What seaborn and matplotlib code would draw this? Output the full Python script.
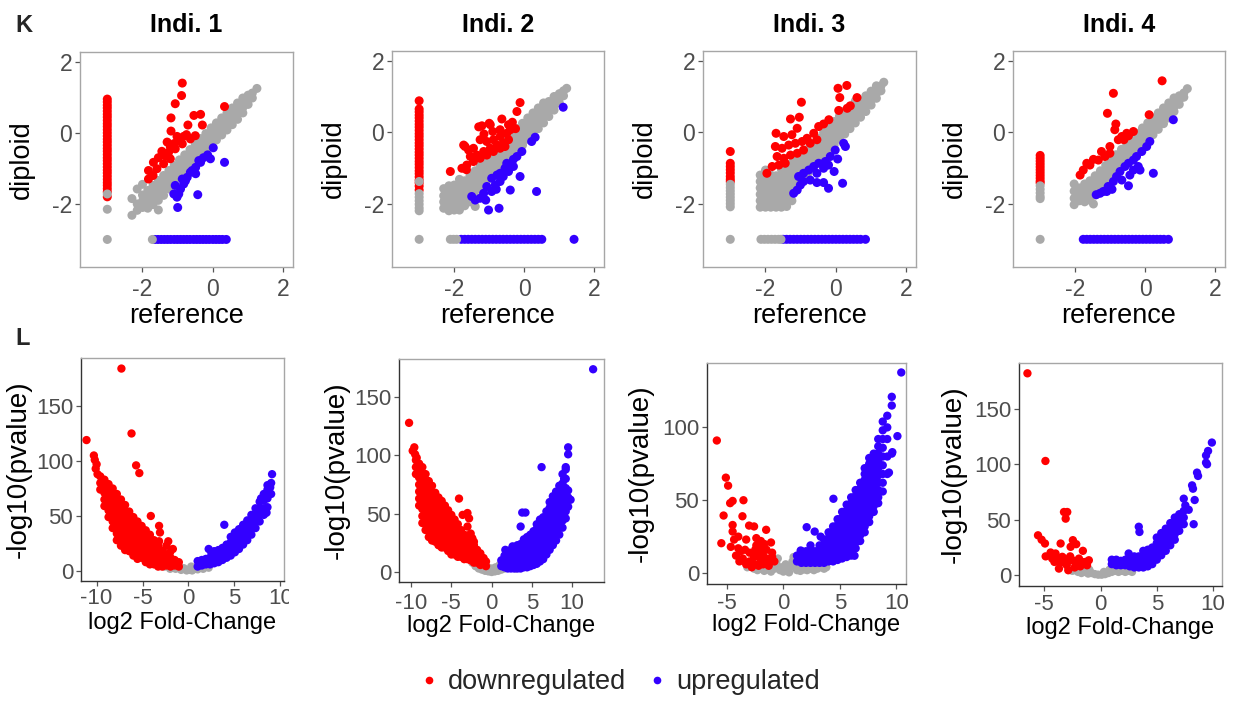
import matplotlib
matplotlib.use("Agg")
import matplotlib.pyplot as plt
import seaborn as sns
import pandas as pd
from matplotlib.lines import Line2D
from matplotlib.patches import Rectangle

# ============================ DATA ============================
FLOOR = -3.0   # value used for genes not detected in one sample
titles = ["Indi. 1", "Indi. 2", "Indi. 3", "Indi. 4"]
legend_labels = ["downregulated", "upregulated"]

# ---- K panels (reference vs diploid); gray columns: (reference, [diploid ...]) ----
K1_gray_cols = [
    (-2.30, [-2.32, -1.85]), (-2.15, [-2.18, -2.00, -1.58]), (-2.00, [-2.10, -1.92, -1.75, -1.45]),
    (-1.85, [-2.12, -1.98, -1.80, -1.62]), (-1.70, [-2.02, -1.86, -1.68, -1.48]),
    (-1.55, [-2.17, -1.90, -1.72, -1.55, -1.34]), (-1.40, [-1.76, -1.58, -1.40, -1.20]),
    (-1.25, [-1.58, -1.42, -1.25, -1.06]), (-1.10, [-1.40, -1.27, -1.10, -0.92]),
    (-0.95, [-1.24, -1.12, -0.95, -0.76]), (-0.80, [-1.10, -0.97, -0.80, -0.62]),
    (-0.65, [-0.96, -0.82, -0.65, -0.47]), (-0.50, [-0.80, -0.67, -0.50, -0.32]),
    (-0.35, [-0.66, -0.51, -0.34, -0.16]), (-0.20, [-0.50, -0.36, -0.19, -0.02]),
    (-0.05, [-0.35, -0.21, -0.04, 0.14]), (0.10, [-0.20, -0.06, 0.11, 0.28]),
    (0.25, [-0.06, 0.09, 0.26, 0.42]), (0.40, [0.08, 0.24, 0.41, 0.56]),
    (0.55, [0.23, 0.39, 0.56, 0.70]), (0.70, [0.38, 0.55, 0.71, 0.84]),
    (0.85, [0.56, 0.71, 0.86, 0.98]), (1.00, [0.80, 0.94, 1.06]), (1.12, [0.98, 1.12]), (1.25, [1.25]),
]
K1_red_pts = [(-0.87, 1.40), (-0.89, 1.05), (-1.07, 0.82), (-1.19, 0.42), (-0.54, 0.49), (-0.35, 0.52),
              (-0.71, 0.22), (-0.30, 0.22), (-1.19, 0.05), (-1.02, -0.10), (-0.83, -0.10), (-0.64, -0.17),
              (0.33, 0.74), (-1.30, -0.26), (-1.21, -0.39), (-1.45, -0.52), (-1.26, -0.55), (-1.07, -0.45),
              (-0.87, -0.31), (-1.69, -0.83), (-1.83, -1.06), (-1.83, -1.30), (-1.59, -1.01), (-1.40, -0.87),
              (-1.21, -0.73), (-1.55, -0.70), (-1.10, -0.30), (-0.95, -0.20), (-0.75, -0.05), (-0.50, -0.08),
              (-1.70, -1.20), (-1.35, -0.65)]
K1_blue_pts = [(0.01, -0.42), (-0.27, -0.70), (-0.07, -0.73), (0.33, -0.83), (-0.40, -0.78), (-0.59, -1.06),
               (-0.49, -1.15), (-0.87, -1.30), (-0.83, -1.44), (-0.92, -1.58), (-0.97, -1.72), (-1.02, -1.81),
               (-0.43, -1.74), (-1.00, -2.10), (-1.07, -1.48), (-0.73, -1.25), (-0.64, -1.11), (-0.49, -0.97),
               (-0.35, -0.83), (-1.11, -1.72), (-0.15, -0.62), (-0.78, -1.35)]
K1_red_col = [0.95, 0.87, 0.78, 0.70, 0.61, 0.52, 0.44, 0.35, 0.26, 0.18, 0.09, 0.00, -0.09, -0.18, -0.26,
              -0.35, -0.44, -0.52, -0.61, -0.70, -0.78, -0.87, -0.96, -1.05, -1.13, -1.22, -1.31, -1.40,
              -1.48, -1.57, -1.66, -1.80]
K1_gray_col = [-1.72, -2.15, -3.0]
K1_blue_row = [-1.65, -1.56, -1.47, -1.38, -1.29, -1.20, -1.10, -1.01, -0.92, -0.83, -0.74, -0.65, -0.55,
               -0.46, -0.37, -0.28, -0.19, -0.10, 0.00, 0.09, 0.18, 0.27, 0.38]
K1_gray_row = [-1.72]

K2_gray_cols = [
    (-2.30, [-2.13, -1.95, -1.78, -1.58]), (-2.15, [-2.20, -2.02, -1.85, -1.68, -1.50]),
    (-2.00, [-2.18, -2.00, -1.82, -1.64, -1.48]), (-1.85, [-2.18, -2.00, -1.84, -1.66, -1.48, -1.32]),
    (-1.70, [-2.06, -1.88, -1.70, -1.52, -1.36]), (-1.55, [-1.95, -1.76, -1.58, -1.40, -1.22]),
    (-1.40, [-2.08, -1.80, -1.62, -1.44, -1.26, -1.08]), (-1.25, [-1.60, -1.46, -1.28, -1.10, -0.94]),
    (-1.10, [-1.44, -1.30, -1.12, -0.95, -0.80]), (-0.95, [-1.28, -1.15, -0.97, -0.80, -0.65]),
    (-0.80, [-1.12, -0.99, -0.82, -0.65, -0.50]), (-0.65, [-0.98, -0.83, -0.66, -0.50, -0.36]),
    (-0.50, [-0.82, -0.68, -0.51, -0.35, -0.20]), (-0.35, [-0.68, -0.53, -0.36, -0.20, -0.05]),
    (-0.20, [-0.52, -0.37, -0.20, -0.04, 0.10]), (-0.05, [-0.36, -0.22, -0.05, 0.11, 0.25]),
    (0.10, [-0.20, -0.06, 0.10, 0.26, 0.40]), (0.25, [-0.06, 0.10, 0.26, 0.41, 0.54]),
    (0.40, [0.10, 0.26, 0.41, 0.56, 0.68]), (0.55, [0.26, 0.42, 0.57, 0.71, 0.82]),
    (0.70, [0.44, 0.59, 0.73, 0.86]), (0.85, [0.62, 0.76, 0.89, 1.00]),
    (1.00, [0.82, 0.95, 1.08]), (1.12, [1.02, 1.16]), (1.21, [1.23]),
]
K2_red_pts = [(-0.12, 0.83), (-0.21, 0.58), (-0.64, 0.37), (-1.21, 0.18), (-0.97, 0.21), (-0.90, 0.02),
              (-0.69, 0.07), (-0.45, 0.21), (-0.34, 0.28), (-1.69, -0.40), (-1.45, -0.45), (-1.26, -0.21),
              (-1.07, -0.26), (-0.88, -0.21), (-0.69, -0.12), (-0.50, -0.03), (-0.40, 0.07), (-1.54, -0.68),
              (-1.35, -0.64), (-1.16, -0.54), (-0.97, -0.45), (-0.78, -0.36), (-0.60, -0.31), (-0.45, -0.21),
              (-1.78, -1.01), (-1.64, -0.92), (-1.45, -0.82), (-1.26, -0.73), (-1.07, -0.64), (-0.88, -0.54),
              (-0.69, -0.45), (-0.55, -0.40), (-2.11, -1.10), (-1.30, 0.15), (-1.00, 0.25), (-1.73, -0.36),
              (-1.59, -0.50), (-0.25, 0.10), (-1.15, -0.05), (-1.65, -1.05)]
K2_blue_pts = [(1.11, 0.70), (0.31, -0.14), (0.21, -0.26), (-0.07, -0.54), (-0.21, -0.68), (-0.31, -0.76),
               (-0.50, -0.87), (-0.55, -1.01), (-0.69, -1.15), (-0.78, -1.20), (-0.12, -1.24), (-0.93, -1.29),
               (-0.83, -1.48), (-1.07, -1.52), (-0.93, -1.66), (-1.16, -1.71), (-1.26, -1.85), (-0.40, -1.62),
               (0.35, -1.66), (-1.02, -2.18), (-0.72, -2.13), (-0.69, -1.38), (-0.60, -1.24), (-0.45, -1.10),
               (-0.31, -0.96), (-1.40, -1.90), (-1.50, -1.80), (-0.80, -1.60), (-1.10, -1.90)]
K2_red_col = [0.88, 0.65, 0.57, 0.48, 0.40, 0.31, 0.22, 0.14, 0.05, -0.04, -0.12, -0.21, -0.30, -0.38, -0.47,
              -0.56, -0.64, -0.73, -0.82, -0.90, -0.99, -1.08, -1.16, -1.25, -1.34, -1.42, -1.51, -1.62]
K2_gray_col = [-1.38, -1.72, -1.82, -1.92, -2.02, -2.12, -2.20, -3.0]
K2_blue_row = [-1.80, -1.70, -1.60, -1.50, -1.40, -1.30, -1.20, -1.10, -1.00, -0.90, -0.80, -0.70, -0.60,
               -0.50, -0.40, -0.30, -0.20, -0.10, 0.00, 0.10, 0.20, 0.30, 0.40, 0.50, 1.42]
K2_gray_row = [-2.11, -2.02, -1.93]

K3_gray_cols = [
    (-2.15, [-2.10, -1.92, -1.74, -1.56, -1.38, -1.20]), (-2.00, [-2.10, -1.92, -1.74, -1.56, -1.38, -1.20, -1.06]),
    (-1.85, [-2.10, -1.92, -1.74, -1.56, -1.38, -1.20]), (-1.70, [-2.10, -1.92, -1.74, -1.56, -1.38, -1.22]),
    (-1.55, [-2.10, -1.92, -1.74, -1.56, -1.38, -1.20, -1.04]),
    (-1.40, [-2.08, -1.90, -1.72, -1.54, -1.36, -1.18, -1.02]),
    (-1.25, [-1.92, -1.74, -1.56, -1.38, -1.20, -1.02, -0.86]),
    (-1.10, [-1.48, -1.30, -1.12, -0.95, -0.78]), (-0.95, [-1.32, -1.15, -0.98, -0.81, -0.64]),
    (-0.80, [-1.16, -0.99, -0.82, -0.65, -0.48]), (-0.65, [-1.00, -0.83, -0.66, -0.49, -0.32]),
    (-0.50, [-0.84, -0.67, -0.50, -0.33, -0.17]), (-0.35, [-0.68, -0.51, -0.34, -0.17, -0.01]),
    (-0.20, [-0.52, -0.35, -0.18, -0.01, 0.15]), (-0.05, [-0.36, -0.19, -0.02, 0.15, 0.30]),
    (0.10, [-0.20, -0.03, 0.14, 0.30, 0.45]), (0.25, [-0.05, 0.12, 0.28, 0.44, 0.59]),
    (0.40, [0.10, 0.26, 0.42, 0.58, 0.72]), (0.55, [0.26, 0.42, 0.58, 0.73, 0.87]),
    (0.70, [0.42, 0.58, 0.73, 0.88]), (0.85, [0.58, 0.74, 0.89, 1.02]),
    (1.00, [0.76, 0.90, 1.04, 1.15]), (1.15, [0.95, 1.08, 1.21, 1.30]), (1.28, [1.16, 1.30]), (1.36, [1.40]),
]
K3_red_pts = [(0.06, 1.23), (0.31, 1.31), (0.11, 0.97), (0.60, 0.97), (0.08, 0.61), (0.32, 0.67), (0.41, 0.74),
              (-0.98, 0.84), (-1.29, 0.37), (-1.04, 0.42), (-1.10, 0.11), (-1.70, -0.03), (-1.48, -0.12),
              (-1.25, -0.07), (-1.72, -0.40), (-1.53, -0.45), (-1.34, -0.36), (-1.15, -0.31), (-0.96, -0.26),
              (-0.82, -0.17), (-0.63, -0.03), (-0.49, 0.16), (-0.35, 0.23), (-0.20, 0.35), (-1.67, -0.68),
              (-1.48, -0.73), (-1.29, -0.64), (-1.10, -0.59), (-0.92, -0.50), (-1.81, -0.96), (-1.62, -0.92),
              (-1.44, -0.87), (-1.96, -1.15), (-0.73, -0.31), (-0.54, -0.21)]
K3_blue_pts = [(0.22, -0.31), (0.27, -0.40), (-0.02, -0.50), (-0.16, -0.68), (-0.30, -0.82), (-0.49, -0.87),
               (-0.63, -0.96), (-0.77, -1.06), (-0.92, -1.15), (-1.06, -1.24), (-0.92, -1.38), (-1.01, -1.48),
               (-1.10, -1.62), (-1.20, -1.71), (-0.54, -1.41), (-0.35, -1.41), (-0.21, -1.57), (0.19, -1.43),
               (-0.73, -1.34), (-0.54, -1.15), (-0.35, -1.01), (-0.21, -0.92), (0.05, -0.75), (-0.05, -1.10)]
K3_red_col = [-0.54, -0.87, -0.96, -1.05, -1.14, -1.24, -1.32, -1.38]
K3_gray_col = [-1.46, -1.55, -1.64, -1.73, -1.82, -1.91, -2.00, -2.09, -3.0]
K3_blue_row = [-1.50, -1.40, -1.30, -1.20, -1.10, -1.00, -0.90, -0.80, -0.70, -0.60, -0.50, -0.40, -0.30,
               -0.20, -0.10, 0.00, 0.10, 0.20, 0.30, 0.40, 0.50, 0.60, 0.70, 0.84]
K3_gray_row = [-2.13, -2.03, -1.93, -1.83, -1.73, -1.63, -1.56]

K4_gray_cols = [
    (-2.03, [-2.03, -1.85, -1.65, -1.45]), (-1.88, [-1.92, -1.74, -1.56]), (-1.73, [-1.95, -1.80, -1.62, -1.45]),
    (-1.58, [-1.90, -1.72, -1.55, -1.36]), (-1.48, [-2.01]), (-1.43, [-1.76, -1.58, -1.40, -1.22]),
    (-1.28, [-1.60, -1.43, -1.26, -1.08]), (-1.13, [-1.45, -1.28, -1.11, -0.93]),
    (-0.98, [-1.28, -1.13, -0.96, -0.78]), (-0.83, [-1.12, -0.97, -0.80, -0.63]),
    (-0.68, [-0.96, -0.82, -0.65, -0.48]), (-0.53, [-0.80, -0.67, -0.50, -0.33]),
    (-0.38, [-0.66, -0.51, -0.35, -0.18]), (-0.23, [-0.50, -0.36, -0.20, -0.03]),
    (-0.08, [-0.36, -0.21, -0.05, 0.12]), (0.07, [-0.22, -0.06, 0.10, 0.26]),
    (0.22, [-0.07, 0.09, 0.25, 0.40]), (0.37, [0.08, 0.24, 0.40, 0.54]),
    (0.52, [0.24, 0.39, 0.55, 0.68]), (0.67, [0.40, 0.55, 0.70, 0.82]),
    (0.82, [0.58, 0.72, 0.85, 0.96]), (0.97, [0.78, 0.90, 1.02]), (1.10, [0.98, 1.10]), (1.20, [1.22]),
]
K4_red_pts = [(0.48, 1.44), (-0.91, 1.09), (-1.08, 0.53), (0.11, 0.49), (-0.84, 0.23), (-0.87, 0.07),
              (-0.67, -0.12), (-0.77, -0.21), (-0.61, -0.21), (-0.48, -0.10), (-1.01, -0.40), (-1.25, -0.54),
              (-1.01, -0.59), (-1.48, -0.76), (-1.67, -0.87), (-1.77, -1.06), (-1.58, -0.92), (-1.86, -1.20),
              (-1.15, -0.68), (-1.34, -0.78), (-0.53, -0.03), (-0.34, 0.02)]
K4_blue_pts = [(0.80, 0.35), (0.13, -0.26), (0.04, -0.40), (-0.10, -0.54), (-0.25, -0.68), (-0.34, -0.78),
               (-0.48, -0.87), (0.23, -1.15), (-0.20, -0.96), (-0.15, -1.06), (-0.58, -0.96), (-0.72, -1.10),
               (-0.82, -1.24), (-0.91, -1.38), (-1.06, -1.52), (-1.20, -1.66), (-0.48, -1.50), (-0.67, -1.34),
               (-0.44, -1.20), (-0.34, -1.06), (-1.29, -1.71), (-1.10, -1.66), (-1.40, -1.75), (-0.95, -1.60)]
K4_red_col = [-0.65, -0.73, -0.81, -0.89, -0.97, -1.05, -1.13, -1.21, -1.29, -1.37, -1.42]
K4_gray_col = [-1.50, -1.60, -1.70, -1.80, -1.86, -3.0]
K4_blue_row = [-1.77, -1.67, -1.57, -1.47, -1.37, -1.27, -1.17, -1.07, -0.97, -0.87, -0.77, -0.67, -0.57,
               -0.47, -0.37, -0.27, -0.17, -0.07, 0.03, 0.13, 0.23, 0.33, 0.43, 0.53, 0.66]
K4_gray_row = []

# ---- L panels (volcano); columns: (log2FC, [-log10 p ...]) ----
L1_gray_pts = [(-2.6, 4), (-2.3, 6), (-2.0, 2), (-1.7, 4), (-1.4, 2), (-1.1, 3), (-0.8, 1), (-0.5, 2.5),
               (-0.2, 0.5), (0.1, 1), (0.4, 0.5), (0.7, 2), (1.0, 1.5), (1.3, 3), (1.6, 2), (1.9, 4), (2.2, 3),
               (-1.2, 6), (0.3, 4), (1.1, 5)]
L1_red_cols = [(-9.60, [86, 80, 74]), (-9.15, [83, 77, 71, 65, 59]), (-8.70, [79, 73, 67, 61, 55, 49]),
               (-8.25, [75, 69, 63, 57, 51, 45, 39]), (-7.80, [70, 64, 58, 52, 46, 40, 34, 28]),
               (-7.35, [65, 59, 53, 47, 41, 35, 29, 23]), (-6.90, [60, 54, 48, 42, 36, 30, 24, 19]),
               (-6.45, [54, 48, 42, 36, 30, 24, 18]), (-6.00, [49, 43, 37, 31, 25, 19, 14]),
               (-5.55, [45, 39, 33, 27, 21, 15, 11]), (-5.10, [41, 35, 29, 23, 17, 12]),
               (-4.65, [37, 31, 25, 19, 13, 8]), (-4.20, [33, 27, 21, 15, 10, 6]), (-3.75, [28, 22, 16, 11, 6]),
               (-3.30, [23, 17, 12, 7, 4]), (-2.85, [18, 13, 8, 4]), (-2.40, [14, 9, 5]), (-1.95, [12, 7, 4]),
               (-1.50, [10, 5]), (-1.05, [8, 4])]
L1_red_pts = [(-7.3, 184), (-11.1, 119), (-10.3, 105), (-10.2, 101), (-10.0, 97), (-10.1, 93), (-6.2, 125),
              (-5.7, 96), (-5.35, 89), (-4.1, 50), (-3.2, 41), (-3.1, 35), (-3.2, 27), (-2.2, 27), (-2.8, 18.5),
              (-2.0, 17), (-2.4, 23), (-1.7, 20), (-9.9, 88)]
L1_blue_cols = [(1.0, [4, 9]), (1.45, [5, 10]), (1.9, [6, 11]), (2.35, [6, 12]), (2.8, [7, 13, 18]),
                (3.25, [8, 14, 19]), (3.7, [10, 16, 21]), (4.15, [12, 18, 24]), (4.6, [14, 20, 26, 31]),
                (5.05, [17, 23, 29, 35]), (5.5, [20, 26, 32, 38]), (5.95, [24, 30, 36, 42]),
                (6.4, [28, 34, 40, 46]), (6.85, [33, 39, 45, 51]), (7.3, [39, 45, 51, 57]),
                (7.75, [45, 51, 57, 63]), (8.2, [51, 57, 64, 70]), (8.6, [58, 66, 74, 78]), (9.0, [70, 80])]
L1_blue_pts = [(9.1, 88), (3.9, 42), (2.2, 20), (8.9, 76), (8.5, 53), (7.9, 66), (2.5, 16)]

L2_gray_pts = [(-2.4, 8), (-2.0, 5), (-1.6, 3), (-1.2, 2), (-0.8, 1), (-0.4, 0.5), (0.0, 0), (0.4, 0.5),
               (0.8, 1), (1.2, 2), (1.6, 3), (2.0, 4), (2.5, 6), (3.0, 3), (-0.5, 4), (0.5, 4), (-1.0, 5),
               (1.0, 6), (-1.5, 7), (1.5, 7), (0.0, 3)]
L2_red_cols = [(-9.4, [96, 90, 84]), (-9.0, [93, 87, 81, 75, 69, 63, 57]),
               (-8.6, [90, 84, 78, 72, 66, 60, 54, 48, 42]), (-8.2, [84, 78, 72, 66, 60, 54, 48, 42, 36]),
               (-7.8, [78, 72, 66, 60, 54, 48, 42, 36, 30]), (-7.4, [74, 68, 62, 56, 50, 44, 38, 32, 27]),
               (-7.0, [68, 62, 56, 50, 44, 38, 32, 26]), (-6.6, [64, 58, 52, 46, 40, 34, 28, 23]),
               (-6.2, [61, 55, 49, 43, 37, 31, 25, 21]), (-5.8, [57, 51, 45, 39, 33, 27, 21]),
               (-5.4, [53, 47, 41, 35, 29, 23, 18]), (-5.0, [49, 43, 37, 31, 25, 19, 15]),
               (-4.6, [45, 39, 33, 27, 21, 15]), (-4.2, [41, 35, 29, 23, 17, 13]), (-3.8, [36, 30, 24, 18, 13]),
               (-3.4, [32, 26, 20, 14, 11]), (-3.0, [29, 23, 17, 11]), (-2.6, [26, 20, 14, 10]),
               (-2.2, [23, 17, 11, 8]), (-1.8, [19, 13, 8]), (-1.4, [16, 10, 6]), (-1.0, [12, 7]), (-0.7, [9, 5])]
L2_red_pts = [(-10.25, 128), (-9.6, 107), (-9.8, 104), (-9.5, 101), (-9.3, 98), (-4.05, 63), (-3.6, 49),
              (-3.0, 50.6), (-2.8, 46), (-3.0, 39), (-2.4, 29), (-2.2, 26), (-2.6, 33)]
L2_blue_cols = [(1.2, [5, 10]), (1.6, [4, 9, 14]), (2.0, [3, 8, 13, 18]), (2.4, [3, 8, 13, 19]),
                (2.8, [3, 8, 13, 19]), (3.2, [3, 8, 13, 18, 23]), (3.6, [3, 8, 13, 18, 24]),
                (4.0, [4, 9, 14, 19, 24, 28]), (4.4, [4, 9, 14, 20, 26, 30]), (4.8, [5, 10, 15, 21, 27, 32]),
                (5.2, [6, 11, 17, 23, 29, 35]), (5.6, [7, 13, 19, 25, 31, 37, 41]),
                (6.0, [9, 15, 21, 27, 33, 39, 45]), (6.4, [11, 17, 23, 29, 35, 41, 47]),
                (6.8, [15, 21, 27, 33, 39, 45, 52]), (7.2, [19, 25, 31, 37, 43, 49, 55, 60]),
                (7.6, [23, 29, 35, 41, 47, 53, 59, 65]), (8.0, [27, 33, 39, 45, 51, 57, 63, 69]),
                (8.4, [32, 38, 44, 50, 56, 62, 68, 74]), (8.8, [38, 44, 50, 56, 62, 68, 76, 84]),
                (9.2, [46, 52, 58, 66, 72, 80, 90]), (9.5, [56, 64, 70])]
L2_blue_pts = [(12.6, 174), (9.5, 107), (9.5, 101), (6.2, 90), (3.8, 51), (4.2, 51), (3.6, 39), (1.7, 19),
               (2.6, 22), (9.8, 62), (9.2, 88), (9.0, 80)]

L3_gray_pts = [(-3.2, 4), (-2.9, 5), (-2.6, 3), (-2.3, 2), (-2.0, 3), (-1.7, 1.5), (-1.4, 2.5), (-1.1, 1),
               (-0.8, 3), (-0.6, 6), (-0.5, 10), (-0.3, 2), (0.0, 1), (0.3, 2), (0.6, 4), (0.8, 8), (0.9, 11),
               (1.2, 2), (1.5, 1.5), (1.8, 2.5), (2.1, 2), (2.4, 3), (2.7, 2), (3.0, 3), (3.3, 4), (3.6, 3),
               (3.8, 4), (-1.2, 5), (-0.1, 4), (0.5, 0.5), (1.0, 5), (1.5, 4.5), (2.2, 4.5), (2.8, 5),
               (-2.0, 5.5), (0.2, 6)]
L3_red_pts = [(-5.9, 91), (-5.1, 65.5), (-4.9, 60), (-4.72, 48), (-4.5, 49.5), (-3.54, 50), (-5.3, 39.5),
              (-5.5, 20.5), (-4.5, 33), (-4.5, 28.5), (-4.37, 23), (-4.66, 18), (-3.63, 39), (-3.04, 32.6),
              (-2.6, 32), (-1.53, 29.7), (-4.0, 25), (-3.3, 23), (-2.4, 24), (-2.0, 22), (-1.7, 20), (-1.1, 21),
              (-3.8, 15), (-3.0, 14), (-2.5, 16), (-2.0, 17), (-1.5, 16), (-1.0, 14), (-4.2, 12), (-3.6, 10),
              (-3.0, 8), (-2.5, 6), (-2.0, 9), (-1.5, 10), (-1.0, 11), (-0.8, 8), (-2.8, 4), (-2.2, 5),
              (-1.8, 6), (-1.3, 5), (-3.3, 6), (-2.6, 11), (-2.2, 13), (-1.8, 12), (-1.2, 8), (-3.4, 16),
              (-4.0, 17), (-3.9, 8), (-2.4, 19)]
L3_blue_cols = [(1.2, [8, 12]), (1.6, [7, 11, 15]), (2.0, [7, 11, 15]), (2.4, [7, 11, 15, 19]),
                (2.8, [7, 11, 15]), (3.2, [7, 11, 15, 19]), (3.6, [7, 11, 15, 19, 23]),
                (4.0, [8, 12, 16, 20, 24, 28]), (4.4, [8, 12, 16, 20, 24, 28, 32]),
                (4.8, [9, 13, 17, 21, 25, 29, 33, 37]), (5.2, [10, 14, 18, 22, 26, 30, 34, 38, 42]),
                (5.6, [11, 15, 19, 23, 27, 31, 35, 39, 43, 47]),
                (6.0, [12, 16, 20, 24, 28, 32, 36, 40, 44, 48, 52]),
                (6.4, [17, 21, 25, 29, 33, 37, 41, 45, 49, 53, 57]),
                (6.8, [22, 26, 30, 34, 38, 42, 46, 50, 54, 58, 62]),
                (7.2, [28, 32, 36, 40, 44, 48, 52, 56, 60, 64, 68, 72]),
                (7.6, [35, 39, 43, 47, 51, 55, 59, 63, 67, 71, 75, 79]),
                (8.0, [42, 46, 50, 54, 58, 62, 66, 70, 74, 78, 82]),
                (8.4, [48, 52, 57, 62, 67, 72, 77, 82, 87, 92]),
                (8.8, [56, 62, 68, 74, 80, 86, 92, 98, 104]), (9.2, [68, 80, 92, 100, 108]),
                (9.6, [82, 115, 121])]
L3_blue_pts = [(10.1, 94), (10.44, 137.7), (4.43, 51), (2.06, 31.5), (2.77, 28.5), (3.3, 25), (1.53, 15.5),
               (9.65, 83), (9.35, 69), (6.3, 11.9)]

L4_gray_pts = [(-2.5, 4), (-2.2, 6), (-2.0, 3), (-1.7, 2), (-1.4, 3), (-1.1, 1.5), (-0.8, 2), (-0.5, 1),
               (-0.2, 0.5), (0.1, 0.5), (0.4, 1), (0.7, 2), (1.0, 3), (1.3, 4), (1.6, 3), (1.9, 4), (2.2, 3),
               (2.5, 4), (2.8, 3), (-1.0, 5), (0.3, 3), (0.8, 5), (1.5, 6), (2.0, 6.5)]
L4_red_pts = [(-6.5, 182), (-4.9, 103), (-5.56, 36), (-5.24, 32), (-4.94, 28.6), (-3.25, 57), (-2.96, 57),
              (-3.1, 51), (-3.55, 28.6), (-4.44, 20.5), (-4.0, 19.6), (-3.4, 16.6), (-2.46, 31.6), (-2.16, 28),
              (-2.66, 25.6), (-1.57, 22), (-1.92, 15), (-1.63, 12), (-3.7, 6), (-2.87, 4.5), (-2.5, 13.5),
              (-2.2, 10.5), (-1.33, 12), (-3.25, 15), (-2.96, 12), (-1.04, 13.5), (-4.1, 12), (-3.6, 11),
              (-2.3, 7), (-1.8, 8), (-1.2, 9), (-3.9, 15.5), (-3.0, 9), (-2.7, 17), (-4.88, 17), (-4.3, 15)]
L4_blue_cols = [(1.0, [10, 14]), (1.4, [9, 14]), (1.8, [9, 13]), (2.2, [9, 14]), (2.6, [8, 13]),
                (3.0, [7, 12, 17]), (3.4, [7, 12, 17]), (3.8, [7, 12, 17, 22]), (4.2, [8, 13, 18, 23]),
                (4.6, [10, 15, 20, 25]), (5.0, [14, 19, 24, 29, 34]), (5.4, [18, 23, 28, 33, 38]),
                (5.8, [22, 27, 32, 37, 42]), (6.2, [27, 32, 37, 42, 47]), (6.6, [32, 37, 42, 47, 52]),
                (7.0, [40, 45, 50, 55]), (7.4, [46, 52, 58])]
L4_blue_pts = [(9.9, 119.6), (9.56, 112), (9.38, 108), (9.38, 101.5), (9.47, 100), (8.58, 92.5), (8.67, 89.5),
               (8.14, 81), (8.22, 78), (8.37, 67.8), (7.4, 69), (7.54, 63), (7.84, 59), (8.28, 46), (3.4, 43.7),
               (3.46, 39), (2.5, 19.6)]

# ============================ STYLE / LAYOUT ============================
RED, BLUE, GRAY = "#FF0000", "#3300FF", "#A9A9A9"
PAL = {"ns": GRAY, "down": RED, "up": BLUE}
W, H = 1238, 702

sns.set_theme(style="white")
plt.rcParams["font.family"] = ["Liberation Sans", "DejaVu Sans"]
plt.rcParams["axes.unicode_minus"] = False

TOP_BOX = [(80, 52, 293, 267), (392, 51, 604, 267), (703, 51, 916, 267), (1013, 51, 1225, 267)]
BOT_BOX = [(81, 358, 284, 581), (399, 359, 604, 582), (707, 363, 906, 584), (1019, 363, 1222, 586)]
B_XLIM = [(-11.7, 10.4), (-11.5, 13.95), (-6.77, 10.86), (-7.25, 10.8)]
B_YLIM = [(-9.1, 193.6), (-8.6, 182.8), (-7.5, 144.2), (-9.7, 191.3)]
B_XTICKS = [[-10, -5, 0, 5, 10], [-10, -5, 0, 5, 10], [-5, 0, 5, 10], [-5, 0, 5, 10]]
B_YTICKS = [[0, 50, 100, 150], [0, 50, 100, 150], [0, 50, 100], [0, 50, 100, 150]]
B_XLAB_Y = [-0.138, -0.148, -0.138, -0.138]
B_YLAB_X = [-0.243, -0.241, -0.268, -0.257]
B_XPAD = [1.6, 4.6, 3.2, 2.0]
TICK_FS = 16.5
B_TICK_FS = 16


def add_ax(fig, box):
    l, t, r, b = box
    return fig.add_axes([l / W, 1 - b / H, (r - l) / W, (b - t) / H])


def expand(cols):
    return [(x, y) for x, ys in cols for y in ys]


def top_df(gray_cols, red_pts, blue_pts, red_col, gray_col, blue_row, gray_row):
    rows = [(x, y, "ns") for x, y in expand(gray_cols)]
    rows += [(x, y, "down") for x, y in red_pts]
    rows += [(x, y, "up") for x, y in blue_pts]
    rows += [(FLOOR, y, "down") for y in red_col]
    rows += [(x, FLOOR, "up") for x in blue_row]
    rows += [(FLOOR, y, "ns") for y in gray_col]
    rows += [(x, FLOOR, "ns") for x in gray_row]
    return pd.DataFrame(rows, columns=["reference", "diploid", "group"])


def vol_df(gray_pts, red_cols, red_pts, blue_cols, blue_pts):
    rows = [(x, y, "ns") for x, y in gray_pts]
    rows += [(x, y, "down") for x, y in expand(red_cols) + red_pts]
    rows += [(x, y, "up") for x, y in expand(blue_cols) + blue_pts]
    return pd.DataFrame(rows, columns=["log2FC", "nlogp", "group"])


def frame(ax, dark_lb, fs):
    for side in ["top", "right", "left", "bottom"]:
        sp = ax.spines[side]
        sp.set_visible(True)
        sp.set_linewidth(1.0)
        sp.set_color("#333333" if (dark_lb and side in ("left", "bottom")) else "#A6A6A6")
    ax.tick_params(bottom=True, left=True, direction="out", length=3.5, width=0.9,
                   color="#555555", labelcolor="#4D4D4D", labelsize=fs)


fig = plt.figure(figsize=(W / 100, H / 100), dpi=100)
fig.patch.set_facecolor("white")

top_sets = [
    (K1_gray_cols, K1_red_pts, K1_blue_pts, K1_red_col, K1_gray_col, K1_blue_row, K1_gray_row),
    (K2_gray_cols, K2_red_pts, K2_blue_pts, K2_red_col, K2_gray_col, K2_blue_row, K2_gray_row),
    (K3_gray_cols, K3_red_pts, K3_blue_pts, K3_red_col, K3_gray_col, K3_blue_row, K3_gray_row),
    (K4_gray_cols, K4_red_pts, K4_blue_pts, K4_red_col, K4_gray_col, K4_blue_row, K4_gray_row),
]
for i, (box, ds) in enumerate(zip(TOP_BOX, top_sets)):
    ax = add_ax(fig, box)
    df = top_df(*ds)
    sns.scatterplot(data=df, x="reference", y="diploid", hue="group", palette=PAL, s=42,
                    linewidth=0, legend=False, ax=ax)
    ax.set_xlim(-3.775, 2.275)
    ax.set_ylim(-3.775, 2.275)
    ax.set_xticks([-2, 0, 2])
    ax.set_yticks([-2, 0, 2])
    frame(ax, False, TICK_FS)
    ax.tick_params(axis="x", pad=4.5)
    ax.tick_params(axis="y", pad=2.0)
    ax.set_xlabel("reference", fontsize=19.5, color="black")
    ax.set_ylabel("diploid", fontsize=19.5, color="black")
    ax.xaxis.set_label_coords(0.5, -0.168)
    ax.yaxis.set_label_coords(-0.211, 0.5)
    h = box[3] - box[1]
    ax.text(0.5, 1 + (box[1] - 32) / h, titles[i], transform=ax.transAxes, ha="center",
            va="baseline", fontsize=18, fontweight="bold", color="black")

bot_sets = [
    (L1_gray_pts, L1_red_cols, L1_red_pts, L1_blue_cols, L1_blue_pts),
    (L2_gray_pts, L2_red_cols, L2_red_pts, L2_blue_cols, L2_blue_pts),
    (L3_gray_pts, [], L3_red_pts, L3_blue_cols, L3_blue_pts),
    (L4_gray_pts, [], L4_red_pts, L4_blue_cols, L4_blue_pts),
]
for i, (box, ds) in enumerate(zip(BOT_BOX, bot_sets)):
    ax = add_ax(fig, box)
    df = vol_df(*ds)
    sns.scatterplot(data=df, x="log2FC", y="nlogp", hue="group", palette=PAL, s=36,
                    linewidth=0, legend=False, ax=ax)
    ax.set_xlim(*B_XLIM[i])
    ax.set_ylim(*B_YLIM[i])
    ax.set_xticks(B_XTICKS[i])
    ax.set_yticks(B_YTICKS[i])
    frame(ax, True, B_TICK_FS)
    ax.tick_params(axis="x", pad=B_XPAD[i])
    ax.tick_params(axis="y", pad=2.2)
    ax.set_xlabel("log2 Fold-Change", fontsize=17, color="black")
    ax.set_ylabel("-log10(pvalue)", fontsize=20, color="black")
    ax.xaxis.set_label_coords(0.5, B_XLAB_Y[i])
    ax.yaxis.set_label_coords(B_YLAB_X[i], 0.5)
    if i == 0:
        # the first volcano sub-figure is cut just right of its panel (shows "1C")
        clip = Rectangle((0, 0), 289 / W, 1, transform=fig.transFigure)
        for lab in ax.get_xticklabels():
            lab.set_clip_path(clip)
            lab.set_clip_on(True)

fig.text(15 / W, 1 - 31.5 / H, "K", fontsize=17, fontweight="bold", ha="left", va="baseline")
fig.text(15 / W, 1 - 345 / H, "L", fontsize=17, fontweight="bold", ha="left", va="baseline")

handles = [Line2D([0], [0], marker="o", linestyle="", markerfacecolor=RED, markeredgewidth=0,
                  markersize=5.5, label=legend_labels[0]),
           Line2D([0], [0], marker="o", linestyle="", markerfacecolor=BLUE, markeredgewidth=0,
                  markersize=5.5, label=legend_labels[1])]
fig.legend(handles=handles, loc="center", bbox_to_anchor=(0.5012, 1 - 682 / H), ncol=2, frameon=False,
           fontsize=19.5, handlelength=0.6, handletextpad=0.4, columnspacing=0.85, borderpad=0)

fig.savefig("out.png", dpi=100, facecolor="white")
